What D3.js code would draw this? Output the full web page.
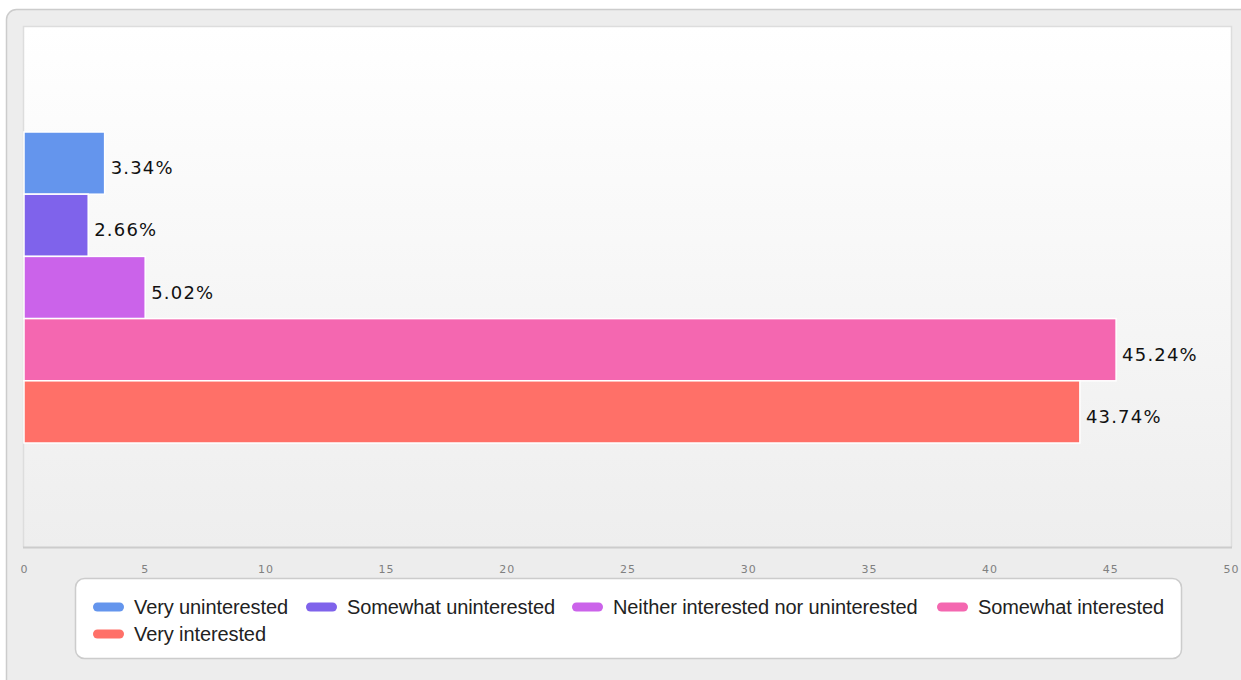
<!DOCTYPE html>
<html><head><meta charset="utf-8">
<script src="https://cdn.jsdelivr.net/npm/d3@7"></script>
<style>body{margin:0;background:#fff;}svg{display:block;}</style>
</head><body><svg id="c" width="1241" height="680"></svg>
<script>
const categories = ["Very uninterested","Somewhat uninterested","Neither interested nor uninterested","Somewhat interested","Very interested"];
const values = [3.34, 2.66, 5.02, 45.24, 43.74];
const colors = ["#6495ED","#7F63EB","#CB63EA","#F467B0","#FF7068"];
const tickValues = [0,5,10,15,20,25,30,35,40,45,50];

const svg = d3.select("#c");
const defs = svg.append("defs");
const g = defs.append("linearGradient").attr("id","bg").attr("x1",0).attr("y1",0).attr("x2",0).attr("y2",1);
g.append("stop").attr("offset","0%").attr("stop-color","#ffffff");
g.append("stop").attr("offset","100%").attr("stop-color","#eeeeee");

svg.append("rect").attr("x",6.5).attr("y",9.5).attr("width",1260).attr("height",700).attr("rx",10)
  .attr("fill","#ededed").attr("stroke","#cccccc").attr("stroke-width",1.5);

const plot = {x:24, y:27, w:1207, h:520};
svg.append("rect").attr("x",plot.x).attr("y",plot.y).attr("width",plot.w).attr("height",plot.h).attr("fill","url(#bg)");
svg.append("path").attr("d",`M${plot.x-0.5},${plot.y+plot.h}V${plot.y-0.5}H${plot.x+plot.w+0.5}V${plot.y+plot.h}`)
  .attr("fill","none").attr("stroke","#dddddd").attr("stroke-width",1.5);
svg.append("line").attr("x1",plot.x-1).attr("x2",plot.x+plot.w+1).attr("y1",plot.y+plot.h+0.5).attr("y2",plot.y+plot.h+0.5)
  .attr("stroke","#cccccc").attr("stroke-width",2);

const x = d3.scaleLinear().domain([0,50]).range([plot.x, plot.x+plot.w]);
const y = d3.scaleBand().domain(categories).range([132, 443]).padding(0);

const bars = svg.append("g");
bars.selectAll("rect").data(values).join("rect")
  .attr("x", x(0)).attr("y",(d,i)=>y(categories[i]))
  .attr("width",d=>x(d)-x(0)).attr("height",y.bandwidth())
  .attr("fill",(d,i)=>colors[i]).attr("stroke","#ffffff").attr("stroke-width",1.5);
bars.selectAll("text").data(values).join("text")
  .attr("x",d=>x(d)+6).attr("y",(d,i)=>y(categories[i])+y.bandwidth()/2+11)
  .attr("font-family","DejaVu Sans, Verdana, sans-serif").attr("font-size",18).attr("fill","#111")
  .attr("letter-spacing","1.2px")
  .text(d=>d.toFixed(2)+"%");

const axis = d3.axisBottom(x).tickValues(tickValues).tickSize(0).tickPadding(0);
const ag = svg.append("g").attr("transform",`translate(0,${565})`).call(axis);
ag.select(".domain").remove();
ag.selectAll("text").attr("font-family","DejaVu Sans, Verdana, sans-serif").attr("font-size",11)
  .attr("fill","#808080").attr("letter-spacing","1px").attr("dy","0.71em");

// legend
svg.append("rect").attr("x",75.5).attr("y",578.5).attr("width",1106).attr("height",80).attr("rx",9)
  .attr("fill","#fff").attr("stroke","#cccccc").attr("stroke-width",1.5);
const legendPos = [[93,607],[306,607],[572,607],[937,607],[93,634]];
const lg = svg.append("g").selectAll("g").data(categories).join("g")
  .attr("transform",(d,i)=>`translate(${legendPos[i][0]},${legendPos[i][1]})`);
lg.append("rect").attr("x",0).attr("y",-4.5).attr("width",31).attr("height",9).attr("rx",4.5)
  .attr("fill",(d,i)=>colors[i]);
lg.append("text").attr("x",41).attr("y",0).attr("dy","0.35em")
  .attr("font-family","Liberation Sans, Arial, sans-serif").attr("font-size",20).attr("fill","#222")
  .attr("letter-spacing","-0.1px")
  .text(d=>d);
</script></body></html>
